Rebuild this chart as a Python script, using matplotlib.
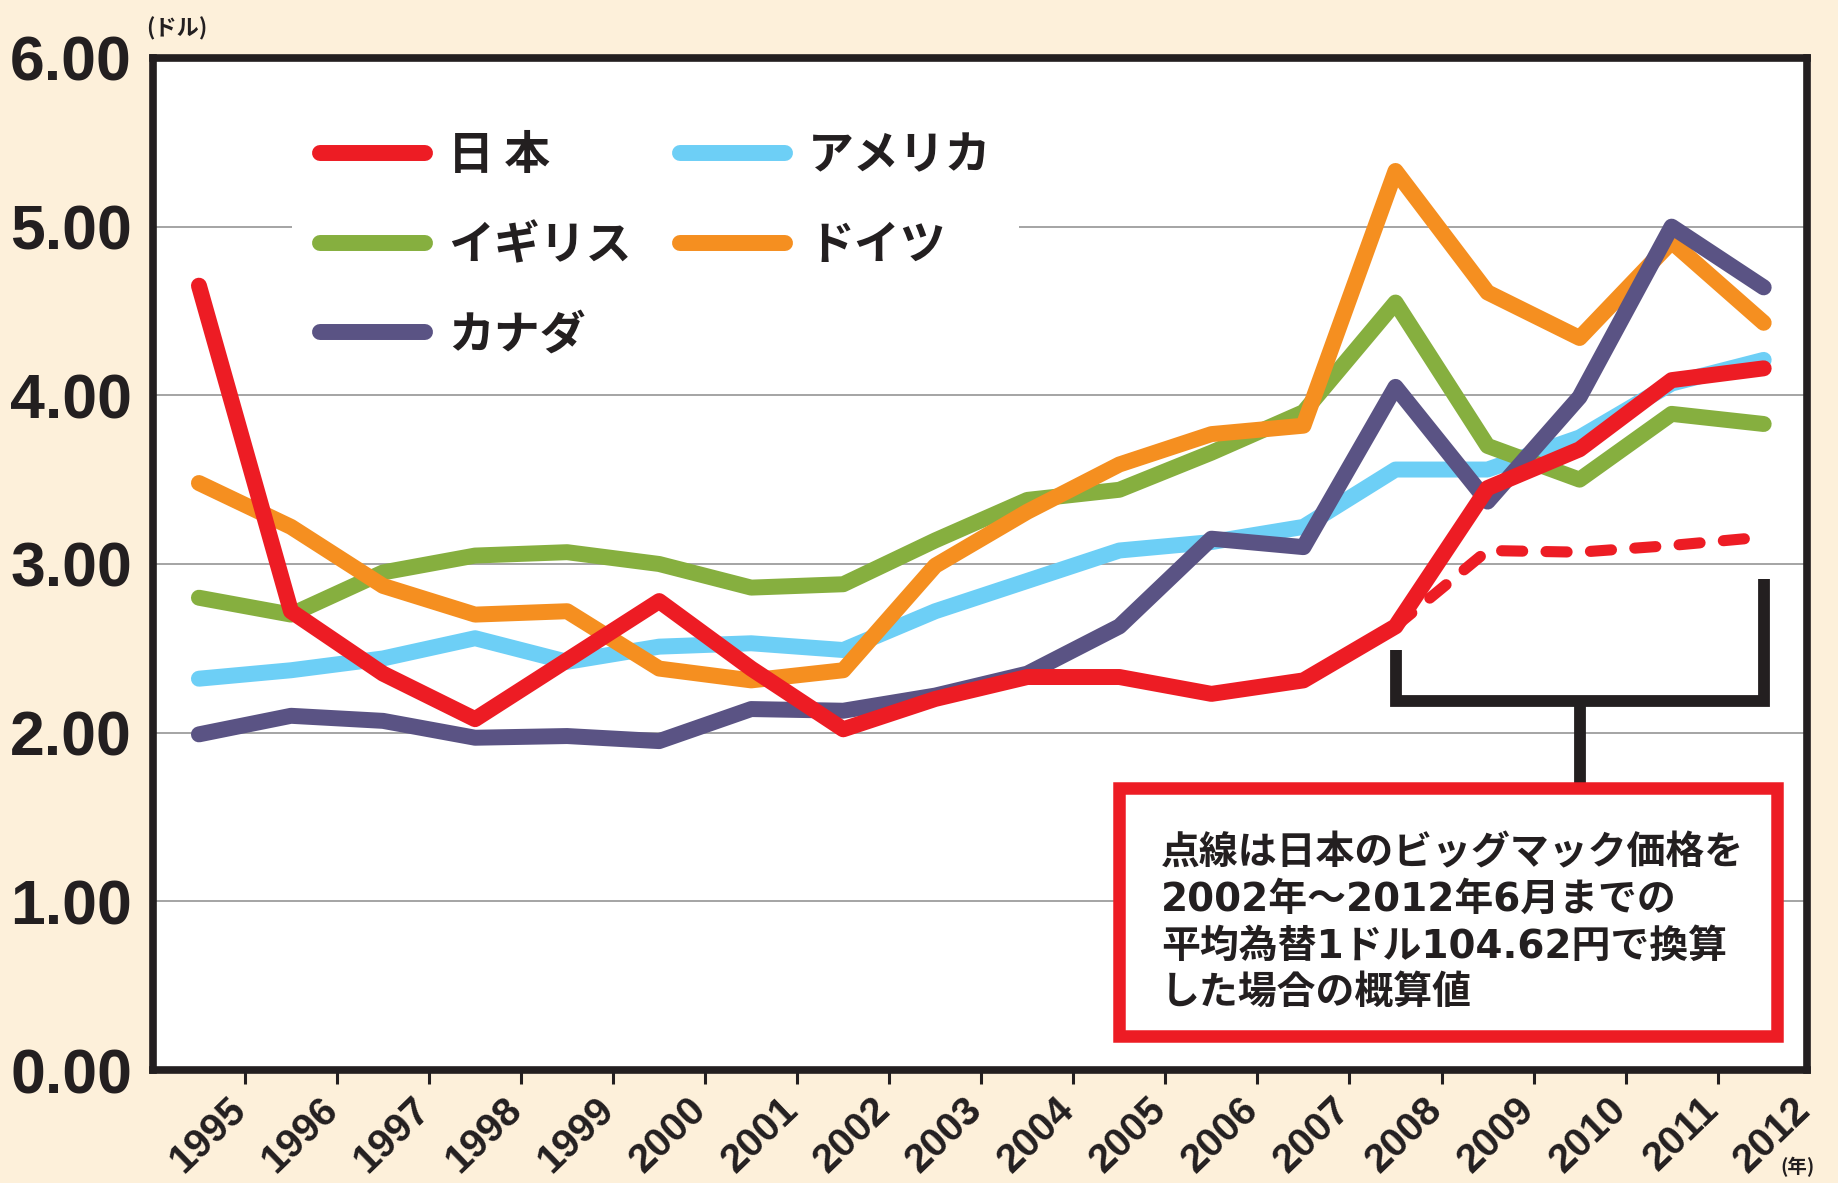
import numpy as np
import matplotlib
matplotlib.use("Agg")
import matplotlib.pyplot as plt
from matplotlib.patches import Rectangle
from matplotlib.font_manager import FontProperties

# ビッグマック価格（ドル換算）
years = list(range(1995, 2013))
japan = [4.65, 2.72, 2.35, 2.08, 2.43, 2.78, 2.38, 2.02, 2.20, 2.33, 2.33, 2.23, 2.31, 2.63, 3.45, 3.68, 4.09, 4.16]
usa = [2.32, 2.37, 2.44, 2.56, 2.42, 2.51, 2.53, 2.49, 2.72, 2.90, 3.08, 3.13, 3.22, 3.56, 3.56, 3.75, 4.07, 4.21]
uk = [2.80, 2.70, 2.95, 3.05, 3.07, 3.00, 2.86, 2.88, 3.14, 3.38, 3.44, 3.66, 3.90, 4.55, 3.70, 3.50, 3.89, 3.83]
germany = [3.48, 3.22, 2.87, 2.70, 2.72, 2.38, 2.31, 2.37, 2.99, 3.31, 3.59, 3.77, 3.82, 5.33, 4.61, 4.34, 4.91, 4.43]
canada = [1.99, 2.10, 2.07, 1.97, 1.98, 1.95, 2.14, 2.13, 2.22, 2.35, 2.63, 3.15, 3.10, 4.05, 3.37, 3.99, 5.00, 4.64]

# 平均為替で換算した日本（点線）
japan_fixed_years = [2008, 2009, 2010, 2011, 2012]
japan_fixed = [2.63, 3.08, 3.07, 3.11, 3.16]

series_names = ["日 本", "アメリカ", "イギリス", "ドイツ", "カナダ"]
y_ticks = [0, 1, 2, 3, 4, 5, 6]
y_tick_labels = ["0.00", "1.00", "2.00", "3.00", "4.00", "5.00", "6.00"]

note_lines = [
    "点線は日本のビッグマック価格を",
    "2002年～2012年6月までの",
    "平均為替1ドル104.62円で換算",
    "した場合の概算値",
]

BG = "#FDF0DA"
INK = "#231F20"
RED = "#ED1C24"
BLUE = "#6DCFF6"
GREEN = "#86AF3F"
ORANGE = "#F58F20"
PURPLE = "#5A5384"

num_font = FontProperties(family="Liberation Sans", weight="bold")
year_font = FontProperties(family="Liberation Sans", weight="bold", size=29)
jp_font = FontProperties(family="Noto Sans CJK JP", weight="bold")
note_font = FontProperties(family=["DejaVu Sans", "Noto Sans CJK JP"], weight="bold", size=28)

fig = plt.figure(figsize=(18.38, 11.83), dpi=100, facecolor=BG)
ax = fig.add_axes([0.0832, 0.0955, 0.8999, 0.8555])
ax.set_facecolor("white")

x = np.arange(len(years))
line_kw = dict(lw=11.5, solid_capstyle="round", solid_joinstyle="round")
l_usa, = ax.plot(x, usa, color=BLUE, zorder=3, **line_kw)
l_uk, = ax.plot(x, uk, color=GREEN, zorder=4, **line_kw)
l_ger, = ax.plot(x, germany, color=ORANGE, zorder=5, **line_kw)
l_can, = ax.plot(x, canada, color=PURPLE, zorder=6, **line_kw)
xf = [years.index(y) for y in japan_fixed_years]
ax.plot(xf, japan_fixed, color=RED, lw=8, dashes=(1.9, 2.1),
        dash_capstyle="round", zorder=6.5)
l_jpn, = ax.plot(x, japan, color=RED, zorder=7, **line_kw)

ax.set_xlim(-0.5, 17.47)
ax.set_ylim(0, 6)

for s in ax.spines.values():
    s.set_linewidth(5.5)
    s.set_color(INK)

ax.set_yticks(y_ticks)
ax.set_yticklabels(y_tick_labels, fontproperties=num_font, fontsize=45)
ax.tick_params(axis="y", length=0, pad=15, colors=INK)
ax.grid(axis="y", color="#9d9d9d", lw=1.3)
ax.set_axisbelow(True)

ax.set_xticks(x[:-1] + 0.5)
ax.set_xticklabels([])
ax.tick_params(axis="x", length=10, width=2.2, direction="out", color=INK)

xt = ax.get_xaxis_transform()
for i, yr in enumerate(years):
    ax.text(i + 0.5 - 0.20, -0.020, str(yr), transform=xt, rotation=44,
            rotation_mode="anchor", ha="right", va="top",
            fontproperties=year_font, color=INK, clip_on=False)

fig.text(0.0963, 0.9755, "(ドル)", fontproperties=jp_font, fontsize=16,
         ha="center", va="center", color=INK)
fig.text(0.9777, 0.0135, "(年)", fontproperties=jp_font, fontsize=14,
         ha="center", va="center", color=INK)

leg = ax.legend([l_jpn, l_uk, l_can, l_usa, l_ger],
                [series_names[0], series_names[2], series_names[4],
                 series_names[1], series_names[3]],
                ncol=2, loc="upper left", bbox_to_anchor=(0.0843, 0.9526),
                prop=FontProperties(family="Noto Sans CJK JP", weight="bold", size=33),
                frameon=True, facecolor="white", edgecolor="none", framealpha=1,
                fancybox=False, borderpad=0.6, handlelength=2.3,
                handletextpad=0.5, columnspacing=1.05, labelspacing=0.95,
                borderaxespad=0)
for t in leg.get_texts():
    t.set_color(INK)

# 2008〜2012の括弧と注記ボックス
i08, i10, i12 = years.index(2008), years.index(2010), years.index(2012)
br_kw = dict(color=INK, lw=8.5, solid_capstyle="butt", solid_joinstyle="miter", zorder=8)
ax.plot([i08, i08, i12, i12], [2.49, 2.19, 2.19, 2.91], **br_kw)
ax.plot([i10, i10], [2.19, 1.67], **br_kw)

ax.add_patch(Rectangle((10.0, 0.20), 7.15, 1.47, facecolor="white",
                       edgecolor=RED, lw=9, zorder=9, joinstyle="miter"))
ax.text(10.45, 0.87, "\n".join(note_lines), ha="left", va="center",
        fontproperties=note_font, linespacing=1.28, color=INK, zorder=10)

fig.savefig("out.png", dpi=100, facecolor=BG)
